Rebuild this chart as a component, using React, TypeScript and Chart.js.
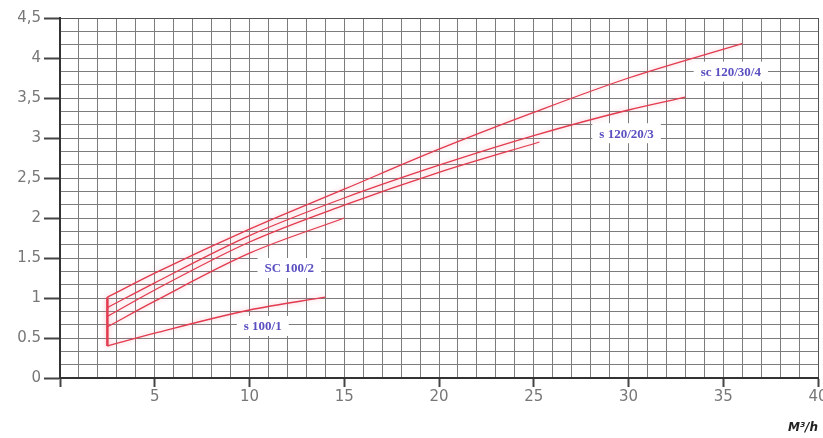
import React, { useEffect, useRef } from "react";
import { Chart, registerables } from "chart.js";

Chart.register(...registerables);

// Curve data (x in M³/h, y)
const sc120_30_4_x = [2.5, 5, 10, 15, 20, 25, 30, 36];
const sc120_30_4_y = [1.01, 1.31, 1.86, 2.36, 2.86, 3.32, 3.75, 4.18];

const s120_20_3_x = [2.5, 5, 10, 15, 20, 25, 30, 33];
const s120_20_3_y = [0.88, 1.19, 1.78, 2.25, 2.66, 3.03, 3.35, 3.51];

const mid_x = [2.5, 5, 10, 15, 20, 25.3];
const mid_y = [0.77, 1.1, 1.7, 2.16, 2.57, 2.95];

const sc100_2_x = [2.5, 5, 10, 15];
const sc100_2_y = [0.64, 0.96, 1.56, 2.0];

const s100_1_x = [2.5, 5, 10, 14];
const s100_1_y = [0.4, 0.56, 0.85, 1.01];

const startLine_x = [2.5, 2.5];
const startLine_y = [0.4, 1.01];

// Tick labels (major y ticks every 0.5)
const yTickLabels = ["0", "0.5", "1", "1.5", "2", "2,5", "3", "3,5", "4", "4,5"];
const xLabelStep = 5;
const xUnitTitle = "M³/h";

// Curve name labels (anchored in data coordinates)
const curveLabelTexts = ["sc 120/30/4", "s 120/20/3", "SC 100/2", "s 100/1"];
const curveLabelX = [35.4, 29.9, 12.1, 10.7];
const curveLabelY = [3.83, 3.06, 1.375, 0.65];

const pts = (xs: number[], ys: number[]) => xs.map((x, i) => ({ x, y: ys[i] }));

const LINE_COLOR = "#e23a4e";

const curvePlugin = {
  id: "curveDecor",
  beforeDatasetDraw(chart: any) {
    const ctx = chart.ctx;
    ctx.save();
    ctx.shadowColor = "rgba(240,120,140,0.55)";
    ctx.shadowBlur = 5;
  },
  afterDatasetDraw(chart: any) {
    chart.ctx.restore();
  },
  afterDatasetsDraw(chart: any) {
    const ctx = chart.ctx;
    const xs = chart.scales.x;
    const ys = chart.scales.y;
    ctx.save();
    ctx.font = "bold 13px 'Liberation Serif'";
    ctx.textAlign = "center";
    ctx.textBaseline = "middle";
    curveLabelTexts.forEach((t, i) => {
      const px = xs.getPixelForValue(curveLabelX[i]);
      const py = ys.getPixelForValue(curveLabelY[i]);
      const w = ctx.measureText(t).width;
      ctx.fillStyle = "#ffffff";
      ctx.fillRect(px - w / 2 - 7, py - 10, w + 14, 20);
      ctx.fillStyle = "#5a4fc0";
      ctx.fillText(t, px, py + 1);
    });
    ctx.restore();
  },
};

export default function App() {
  const canvasRef = useRef<HTMLCanvasElement | null>(null);

  useEffect(() => {
    if (!canvasRef.current) return;
    const mk = (xs: number[], ys: number[], w = 1.3) => ({
      data: pts(xs, ys),
      showLine: true,
      borderColor: LINE_COLOR,
      backgroundColor: LINE_COLOR,
      borderWidth: w,
      pointRadius: 0,
      cubicInterpolationMode: "monotone" as const,
      fill: false,
    });
    const isMajorY = (v: number) => Math.abs(v * 2 - Math.round(v * 2)) < 1e-6;
    const chart = new Chart(canvasRef.current, {
      type: "scatter",
      data: {
        datasets: [
          mk(sc120_30_4_x, sc120_30_4_y),
          mk(s120_20_3_x, s120_20_3_y),
          mk(mid_x, mid_y),
          mk(sc100_2_x, sc100_2_y),
          mk(s100_1_x, s100_1_y),
          mk(startLine_x, startLine_y, 2.5),
        ],
      },
      options: {
        animation: false,
        responsive: true,
        maintainAspectRatio: false,
        layout: { padding: { top: 18, right: 5, left: 0, bottom: 0 } },
        plugins: {
          legend: { display: false },
          tooltip: { enabled: false },
        },
        scales: {
          x: {
            type: "linear",
            min: 0,
            max: 40,
            border: { color: "#333", width: 2 },
            grid: {
              color: (c: any) => (c.tick && c.tick.value === 40 ? "#555" : "#7c7c7c"),
              lineWidth: 1,
              tickLength: 9,
              tickColor: (c: any) =>
                c.tick && Math.round(c.tick.value) % xLabelStep === 0 ? "#444" : "rgba(0,0,0,0)",
              tickWidth: 2,
            },
            ticks: {
              stepSize: 1,
              autoSkip: false,
              maxRotation: 0,
              padding: 1,
              color: "#777",
              font: { family: "DejaVu Sans", size: 15 },
              callback: (v: any) => {
                const n = Number(v);
                return n !== 0 && Math.round(n) % xLabelStep === 0 ? String(n) : "";
              },
            },
            title: {
              display: true,
              text: xUnitTitle,
              align: "end",
              color: "#222",
              font: { family: "DejaVu Sans", size: 12, weight: "bold", style: "italic" },
              padding: { top: 0, bottom: 3 },
            },
            afterFit: (s: any) => {
              s.height = 60;
              s.paddingLeft = 0;
              s.paddingRight = 0;
            },
          },
          y: {
            type: "linear",
            min: 0,
            max: 4.5,
            border: { color: "#333", width: 2 },
            grid: {
              color: (c: any) =>
                c.tick && Math.abs(c.tick.value - 4.5) < 1e-6 ? "#555" : "#7c7c7c",
              lineWidth: 1,
              tickLength: 16,
              tickColor: (c: any) => (c.tick && isMajorY(c.tick.value) ? "#444" : "rgba(0,0,0,0)"),
              tickWidth: 2,
            },
            ticks: {
              stepSize: 1 / 6,
              autoSkip: false,
              padding: 3,
              color: "#777",
              font: { family: "DejaVu Sans", size: 15 },
              callback: (v: any) => {
                const n = Number(v);
                return isMajorY(n) ? yTickLabels[Math.round(n * 2)] : "";
              },
            },
            afterFit: (s: any) => {
              s.width = 60;
            },
          },
        },
      },
      plugins: [curvePlugin],
    });
    return () => chart.destroy();
  }, []);

  return (
    <div style={{ position: "absolute", left: 0, top: 0, width: 823, height: 438, background: "#fff" }}>
      <canvas ref={canvasRef} />
    </div>
  );
}
